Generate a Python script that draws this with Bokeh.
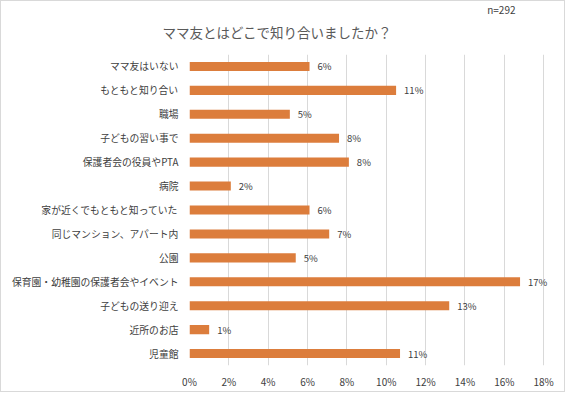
from bokeh.plotting import figure
from bokeh.models import FactorRange, Range1d, FixedTicker, PrintfTickFormatter, Title, ColumnDataSource
from bokeh.embed import file_html
from bokeh.resources import INLINE
from bokeh.core.properties import value

categories = ["ママ友はいない", "もともと知り合い", "職場", "子どもの習い事で", "保護者会の役員やPTA",
              "病院", "家が近くでもともと知っていた", "同じマンション、アパート内", "公園",
              "保育園・幼稚園の保護者会やイベント", "子どもの送り迎え", "近所のお店", "児童館"]
values = [6.1, 10.5, 5.1, 7.6, 8.1, 2.1, 6.1, 7.1, 5.4, 16.8, 13.2, 1.0, 10.7]
value_labels = ["6%", "11%", "5%", "8%", "8%", "2%", "6%", "7%", "5%", "17%", "13%", "1%", "11%"]
x_ticks = [0, 2, 4, 6, 8, 10, 12, 14, 16, 18]
title_text = "ママ友とはどこで知り合いましたか？"
n_text = "n=292"

FONT = "Noto Sans CJK JP"
BAR = "#DC7D3C"

src = ColumnDataSource(dict(cat=categories, val=values, lab=value_labels))

p = figure(width=565, height=392, output_backend="svg", toolbar_location=None,
           title_location=None,
           y_range=FactorRange(*reversed(categories)), x_range=Range1d(0, 18.5),
           min_border_left=188, min_border_right=13, min_border_top=53, min_border_bottom=28)
p.styles = {"border": "1px solid #d9d9d9"}
p.outline_line_color = None
p.background_fill_color = "white"
p.border_fill_color = "white"

p.hbar(y="cat", right="val", left=0, height=0.38, source=src, color=BAR, line_color=None)
p.text(x="val", y="cat", text="lab", source=src, x_offset=8, text_baseline="middle",
       text_align="left", text_font=value(FONT), text_font_size="9.5px", text_color="#404040")

p.xaxis.ticker = FixedTicker(ticks=x_ticks)
p.xaxis.formatter = PrintfTickFormatter(format="%d%%")
p.xaxis.axis_line_color = None
p.xaxis.major_tick_line_color = None
p.xaxis.minor_tick_line_color = None
p.xaxis.major_tick_out = 0
p.xaxis.major_tick_in = 0
p.xaxis.minor_tick_out = 0
p.xaxis.major_label_text_font = FONT
p.xaxis.major_label_text_font_size = "10px"
p.xaxis.major_label_text_color = "#404040"
p.xaxis.major_label_standoff = 8

p.yaxis.axis_line_color = None
p.yaxis.major_tick_line_color = None
p.yaxis.minor_tick_line_color = None
p.yaxis.major_tick_out = 0
p.yaxis.major_tick_in = 0
p.yaxis.minor_tick_out = 0
p.yaxis.major_label_text_font = FONT
p.yaxis.major_label_text_font_size = "9.8px"
p.yaxis.major_label_text_color = "#404040"
p.yaxis.major_label_standoff = 11

p.xgrid.grid_line_color = "#d9d9d9"
p.ygrid.grid_line_color = None

main_title = Title(text=title_text, align="left", offset=-27, standoff=21, vertical_align="top",
                   text_font=FONT, text_font_size="13.5px", text_font_style="normal",
                   text_color="#595959")
n_title = Title(text=n_text, align="right", offset=38, standoff=-20, vertical_align="top",
                text_font=FONT, text_font_size="10px", text_font_style="normal",
                text_color="#404040")
p.add_layout(main_title, "above")
p.add_layout(n_title, "above")

open("out.html", "w").write(file_html(p, INLINE))
